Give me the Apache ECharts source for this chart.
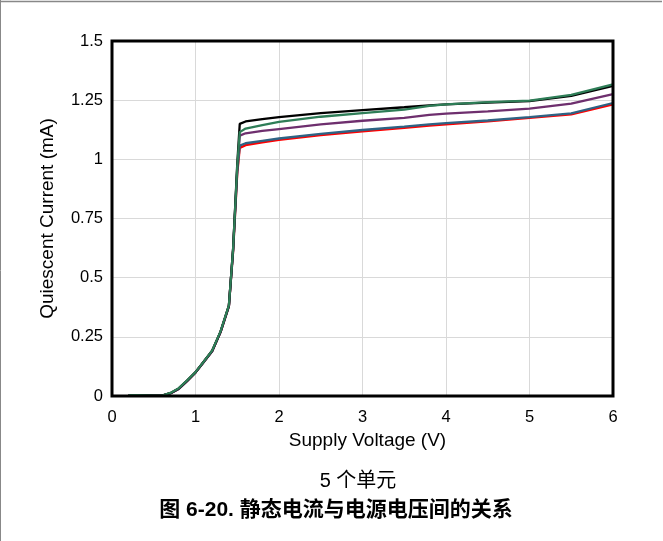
<!DOCTYPE html>
<html>
<head>
<meta charset="utf-8">
<script src="https://cdn.jsdelivr.net/npm/echarts@6/dist/echarts.min.js"></script>
<style>
html,body{margin:0;padding:0;background:#fff;}
#c{width:663px;height:541px;}
</style>
</head>
<body>
<div id="c"></div>
<script>
const voltage = [0.2,0.3,0.4,0.5,0.6,0.7,0.8,0.9,1.0,1.1,1.2,1.3,1.4,1.45,1.5,1.53,1.6,1.8,2.0,2.5,3.0,3.5,3.8,4.0,4.5,5.0,5.5,6.0];
const unitRed    = [0.004,0.004,0.003,0.001,0.002,0.012,0.031,0.064,0.1,0.145,0.19,0.27,0.38,0.61,0.94,1.048,1.06,1.072,1.082,1.102,1.118,1.133,1.143,1.148,1.16,1.175,1.19,1.232];
const unitBlue   = [0.004,0.004,0.003,0.001,0.002,0.012,0.031,0.064,0.1,0.145,0.19,0.27,0.38,0.61,0.95,1.058,1.068,1.078,1.088,1.108,1.124,1.138,1.148,1.153,1.164,1.178,1.194,1.238];
const unitPurple = [0.004,0.004,0.003,0.001,0.002,0.011,0.030,0.063,0.099,0.144,0.189,0.27,0.38,0.62,0.96,1.1,1.11,1.12,1.128,1.148,1.163,1.175,1.188,1.193,1.203,1.214,1.235,1.276];
const unitBlack  = [0.004,0.004,0.003,0.001,0.002,0.012,0.032,0.065,0.1,0.146,0.191,0.272,0.382,0.62,0.98,1.15,1.16,1.17,1.178,1.195,1.208,1.22,1.228,1.232,1.24,1.246,1.268,1.31];
const unitGreen  = [0.004,0.004,0.003,0.001,0.002,0.013,0.033,0.066,0.101,0.146,0.192,0.273,0.383,0.62,0.97,1.115,1.13,1.145,1.158,1.18,1.195,1.21,1.226,1.232,1.242,1.248,1.272,1.317];
const xTicks = [0,1,2,3,4,5,6];
const yTicks = [0,0.25,0.5,0.75,1,1.25,1.5];

const pairs = arr => voltage.map((v,i)=>[v,arr[i]]);
const font = '"Liberation Sans", Arial, sans-serif';
const cjk = '"Liberation Sans", "Noto Sans CJK SC", sans-serif';

const chart = echarts.init(document.getElementById('c'), null, {renderer:'canvas'});
const mk = (name, data, color) => ({
  name, type:'line', data: pairs(data), showSymbol:false, symbol:'none',
  lineStyle:{color, width:2.3}, itemStyle:{color}, animation:false, z:3
});
chart.setOption({
  animation:false,
  backgroundColor:'#fff',
  grid:{left:112,right:50,top:41,bottom:145,show:true,borderColor:'#000',borderWidth:3,z:4},
  xAxis:{
    type:'value', min:0, max:6, interval:1,
    axisLine:{show:false}, axisTick:{show:false},
    axisLabel:{color:'#000',fontSize:16.5,fontFamily:font,margin:13,
      formatter:v=> xTicks.includes(v)? String(v):''},
    splitLine:{show:true,lineStyle:{color:'#d9d9d9',width:1}},
    name:'Supply Voltage (V)', nameLocation:'middle', nameGap:33,
    nameTextStyle:{color:'#000',fontSize:19,fontFamily:font,padding:[0,0,0,10]}
  },
  yAxis:{
    type:'value', min:0, max:1.5, interval:0.25,
    axisLine:{show:false}, axisTick:{show:false},
    axisLabel:{color:'#000',fontSize:16.5,fontFamily:font,margin:9,
      formatter:v=> yTicks.includes(v)? String(v):''},
    splitLine:{show:true,lineStyle:{color:'#d9d9d9',width:1}},
    name:'Quiescent Current (mA)', nameLocation:'middle', nameGap:55,
    nameTextStyle:{color:'#000',fontSize:19,fontFamily:font}
  },
  series:[
    mk('Unit 1', unitRed, '#ff0000'),
    mk('Unit 2', unitBlue, '#2e6384'),
    mk('Unit 3', unitPurple, '#6e2f6e'),
    mk('Unit 4', unitBlack, '#000000'),
    mk('Unit 5', unitGreen, '#2e7d57')
  ],
  graphic:[
    {type:'line', shape:{x1:0.5,y1:0,x2:0.5,y2:541}, style:{stroke:'#888',lineWidth:1}},
    {type:'line', shape:{x1:0,y1:1.5,x2:662,y2:1.5}, style:{stroke:'#888',lineWidth:1.5}},
    {type:'text', x:358, y:481, style:{text:'5 个单元', fill:'#000', font:'20px '+cjk, textAlign:'center', textVerticalAlign:'middle'}},
    {type:'text', x:336, y:510, style:{text:'图 6-20. 静态电流与电源电压间的关系', fill:'#000', font:'bold 21px '+cjk, textAlign:'center', textVerticalAlign:'middle'}}
  ]
});
</script>
</body>
</html>
